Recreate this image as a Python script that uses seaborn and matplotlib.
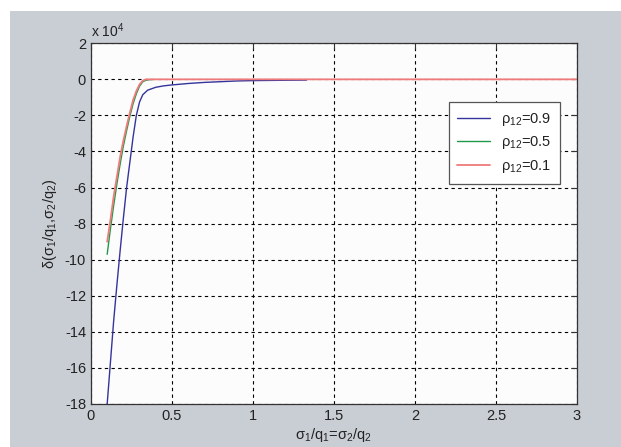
import numpy as np
import pandas as pd
import seaborn as sns
import matplotlib.pyplot as plt
from matplotlib.patches import Rectangle

sns.set_style("white")
plt.rcParams['font.family'] = ['Liberation Sans', 'DejaVu Sans']
plt.rcParams['mathtext.default'] = 'regular'
plt.rcParams['axes.unicode_minus'] = False

# values in units of 10^4
x_09 = [0.10, 0.12, 0.14, 0.16, 0.18, 0.20, 0.22, 0.24, 0.26, 0.28, 0.30, 0.32,
        0.35, 0.40, 0.45, 0.50, 0.60, 0.70, 0.80, 0.90, 1.00, 1.10, 1.20, 1.33]
y_09 = [-18.0, -15.7, -13.4, -11.4, -9.5, -7.7, -6.0, -4.6, -3.2, -2.0, -1.25, -0.85,
        -0.6, -0.44, -0.36, -0.31, -0.23, -0.17, -0.13, -0.09, -0.07, -0.06, -0.05, -0.04]

x_05 = [0.10, 0.12, 0.14, 0.16, 0.18, 0.20, 0.22, 0.24, 0.26, 0.28, 0.30, 0.32,
        0.34, 0.36, 0.38]
y_05 = [-9.7, -8.3, -7.0, -5.8, -4.7, -3.7, -2.85, -2.05, -1.35, -0.8, -0.38, -0.13,
        -0.05, -0.02, -0.01]

x_01 = [0.10, 0.12, 0.14, 0.16, 0.18, 0.20, 0.22, 0.24, 0.26, 0.28, 0.30, 0.32,
        0.34, 0.50, 1.00, 1.50, 2.00, 2.50, 3.00]
y_01 = [-9.0, -7.8, -6.5, -5.4, -4.3, -3.4, -2.6, -1.85, -1.15, -0.65, -0.28, -0.07,
        0.0, 0.0, 0.0, 0.0, 0.0, 0.0, 0.0]

labels = [r'$\rho_{12}$=0.9', r'$\rho_{12}$=0.5', r'$\rho_{12}$=0.1']
colors = ['#34349c', '#1f9a4c', '#f07a7a']
widths = [1.0, 1.0, 1.3]

fig = plt.figure(figsize=(6.21, 4.47), dpi=100, facecolor='white')
fig.patches.append(Rectangle((10 / 621, 0), 1, 1 - 11 / 447, transform=fig.transFigure,
                             facecolor='#c9cdd4', edgecolor='none', zorder=-10))
ax = fig.add_axes([0.1465, 0.0962, 0.7825, 0.807])
ax.set_facecolor('#fcfcfc')

for xs, ys, lab, c, w in zip([x_09, x_05, x_01], [y_09, y_05, y_01], labels, colors, widths):
    df = pd.DataFrame({'x': xs, 'y': ys})
    sns.lineplot(data=df, x='x', y='y', ax=ax, color=c, linewidth=w, label=lab,
                 sort=False, estimator=None)

ax.set_xlim(0, 3)
ax.set_ylim(-18, 2)
ax.set_xticks(np.arange(0, 3.01, 0.5))
ax.set_xticklabels(['0', '0.5', '1', '1.5', '2', '2.5', '3'])
ax.set_yticks(np.arange(-18, 2.1, 2))
ax.set_yticklabels([str(v) for v in range(-18, 3, 2)])
ax.grid(True, color='black', linestyle=(0, (3, 3)), linewidth=0.8)
ax.tick_params(direction='in', length=4, top=True, right=True, labelsize=10.5,
               labelcolor='#222222', color='#333333')
for s in ax.spines.values():
    s.set_color('#333333')
    s.set_linewidth(0.9)

ax.set_xlabel(r'$\sigma_1/q_1$=$\sigma_2/q_2$', fontsize=10.5, color='#222222', labelpad=2)
ax.set_ylabel(r'$\delta(\sigma_1/q_1{,}\sigma_2/q_2)$', fontsize=10.5, color='#222222',
              labelpad=4)
ax.text(0.0, 1.008, r'x 10$^4$', transform=ax.transAxes, ha='left', va='bottom',
        fontsize=10, color='#222222')

leg = ax.legend(loc='upper right', bbox_to_anchor=(0.981, 0.857), fontsize=10.5,
                fancybox=False, framealpha=1, edgecolor='#555555', handlelength=2.2,
                borderpad=0.6, labelspacing=0.45)
leg.get_frame().set_linewidth(0.9)
for t in leg.get_texts():
    t.set_color('#222222')

fig.savefig('out.png', dpi=100, facecolor=fig.get_facecolor())
